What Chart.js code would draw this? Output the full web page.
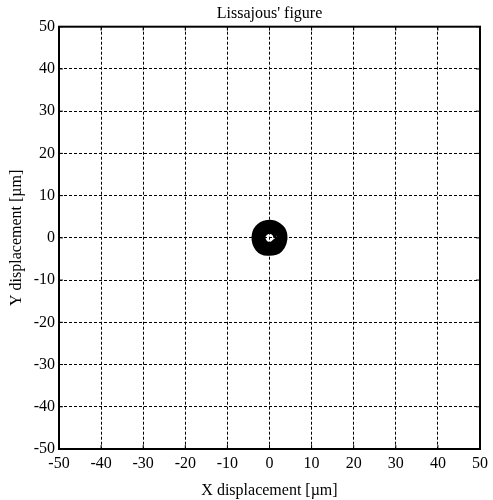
<!DOCTYPE html>
<html>
<head>
<meta charset="utf-8">
<script src="https://cdn.jsdelivr.net/npm/chart.js@4.4.1/dist/chart.umd.min.js"></script>
<style>
  html, body { margin: 0; padding: 0; background: #fff; }
  #wrap { width: 493px; height: 500px; }
</style>
</head>
<body>
<div id="wrap"><canvas id="c" width="493" height="500"></canvas></div>
<script>
// Orbit trace of the rotor centre, X/Y displacement in micrometres
const xTrace = [
  1.3, 1.1, 0.6, 0.0, -0.65, -1.15, -1.3, -1.1, -0.6, 0.0, 0.65, 1.15,
  2.0, 1.75, 1.0, 0.05, -1.0, -1.75, -2.0, -1.7, -0.95, 0.05, 1.0, 1.7,
  2.6, 2.2, 1.3, 0.0, -1.35, -2.25, -2.6, -2.25, -1.3, 0.0, 1.3, 2.25,
  3.2, 2.8, 1.6, 0.1, -1.6, -2.8, -3.2, -2.75, -1.6, 0.0, 1.6, 2.8,
  3.8, 3.2, 1.8, 0.2, -1.9, -3.3, -3.8, -3.2, -1.9, -0.1, 1.9, 3.3,
  3.9, 3.0, 0.6, -2.6, -3.9, -3.0, -0.5, 2.7, 3.9,
  1.7, -0.9, -2.3, -1.2, 1.1, 2.4, 1.6
];
const yTrace = [
  0.0, 0.7, 1.15, 1.3, 1.1, 0.6, 0.0, -0.65, -1.15, -1.3, -1.1, -0.65,
  0.1, 1.0, 1.75, 2.0, 1.7, 0.95, -0.05, -1.0, -1.75, -2.0, -1.7, -1.05,
  0.0, 1.35, 2.25, 2.6, 2.2, 1.3, 0.05, -1.3, -2.25, -2.6, -2.25, -1.3,
  0.1, 1.6, 2.8, 3.2, 2.75, 1.6, 0.0, -1.6, -2.8, -3.2, -2.75, -1.6,
  0.2, 1.9, 3.3, 3.7, 3.2, 1.8, 0.1, -1.9, -3.2, -3.8, -3.2, -1.8,
  0.5, 2.6, 3.9, 3.0, 0.4, -2.7, -3.9, -3.0, 0.5,
  2.2, 2.5, 0.6, -2.1, -2.4, -0.8, 1.3
];
const axisTicks = [-50, -40, -30, -20, -10, 0, 10, 20, 30, 40, 50];

const points = xTrace.map((x, i) => ({ x: x, y: yTrace[i] }));
const SERIF = "'Liberation Serif', 'Times New Roman', serif";

// Solid frame around the plot plus short inward tick marks on every side
const framePlugin = {
  id: 'frame',
  afterDraw(chart) {
    const { ctx, chartArea: a, scales } = chart;
    ctx.save();
    ctx.strokeStyle = '#000';
    ctx.setLineDash([]);
    ctx.lineWidth = 1;
    const len = 4;
    axisTicks.forEach(v => {
      const px = scales.x.getPixelForValue(v);
      const py = scales.y.getPixelForValue(v);
      ctx.beginPath();
      ctx.moveTo(px, a.bottom); ctx.lineTo(px, a.bottom - len);
      ctx.moveTo(px, a.top); ctx.lineTo(px, a.top + len);
      ctx.moveTo(a.left, py); ctx.lineTo(a.left + len, py);
      ctx.moveTo(a.right, py); ctx.lineTo(a.right - len, py);
      ctx.stroke();
    });
    ctx.lineWidth = 2;
    ctx.strokeRect(a.left, a.top, a.right - a.left, a.bottom - a.top);
    ctx.restore();
  }
};

new Chart(document.getElementById('c'), {
  type: 'scatter',
  data: {
    datasets: [{
      data: points,
      showLine: true,
      borderColor: '#000',
      borderWidth: 3,
      pointRadius: 0,
      tension: 0.35,
      fill: false
    }]
  },
  options: {
    responsive: false,
    animation: false,
    devicePixelRatio: 1,
    layout: { padding: { left: 0, right: 10, top: 0, bottom: 0 } },
    plugins: {
      legend: { display: false },
      tooltip: { enabled: false },
      title: {
        display: true,
        fullSize: false,
        text: "Lissajous' figure",
        color: '#000',
        font: { family: SERIF, size: 16, weight: 'normal', lineHeight: 1.2 },
        padding: { top: 4, bottom: 3.5 }
      }
    },
    scales: {
      x: {
        type: 'linear',
        min: -50, max: 50,
        afterBuildTicks(scale) { scale.ticks = axisTicks.map(v => ({ value: v })); },
        afterFit(scale) { scale.height = 51; },
        ticks: { color: '#000', padding: 5, font: { family: SERIF, size: 16 } },
        grid: { color: '#000', lineWidth: 1, drawTicks: false },
        border: { display: false, dash: [3, 2] },
        title: {
          display: true, text: 'X displacement [µm]', color: '#000',
          font: { family: SERIF, size: 16 }, padding: { top: 5, bottom: 0 }
        }
      },
      y: {
        type: 'linear',
        min: -50, max: 50,
        afterBuildTicks(scale) { scale.ticks = axisTicks.map(v => ({ value: v })); },
        afterFit(scale) { scale.width = 59; },
        ticks: { color: '#000', padding: 4, font: { family: SERIF, size: 16 } },
        grid: { color: '#000', lineWidth: 1, drawTicks: false },
        border: { display: false, dash: [3, 2] },
        title: {
          display: true, text: 'Y displacement [µm]', color: '#000',
          font: { family: SERIF, size: 16 }, padding: { top: 7, bottom: 0 }
        }
      }
    }
  },
  plugins: [framePlugin]
});
</script>
</body>
</html>
